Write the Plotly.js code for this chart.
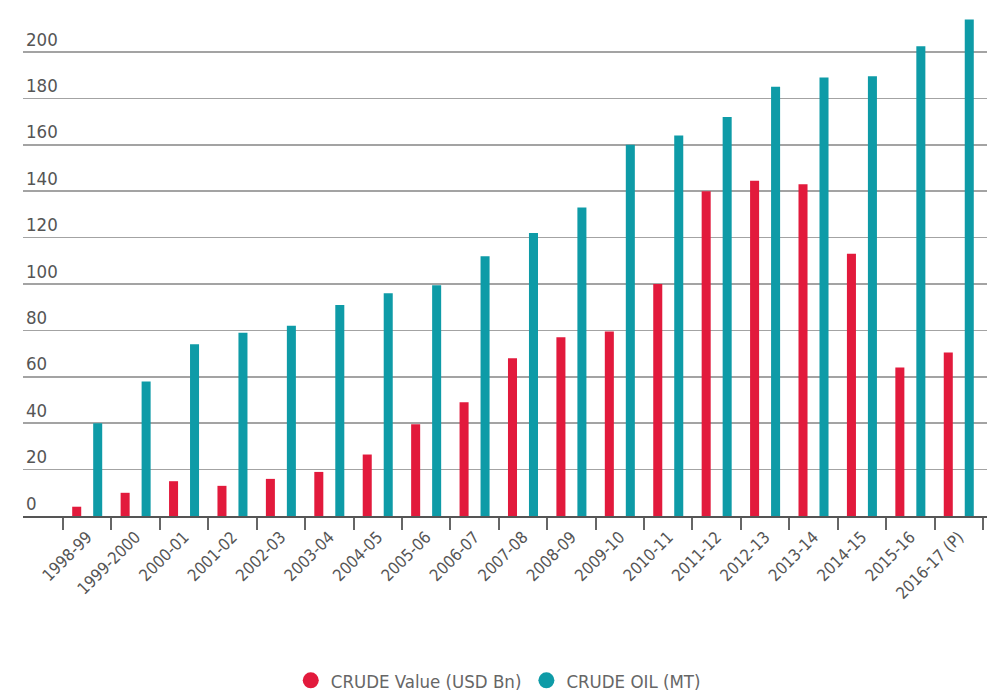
<!DOCTYPE html>
<html>
<head>
<meta charset="utf-8">
<script src="https://cdn.plot.ly/plotly-3.0.1.min.js"></script>
<style>html,body{margin:0;padding:0;background:#fff;}#chart{width:987px;height:694px;}</style>
</head>
<body>
<div id="chart"></div>
<script>
var years = ["1998-99","1999-2000","2000-01","2001-02","2002-03","2003-04","2004-05","2005-06","2006-07","2007-08","2008-09","2009-10","2010-11","2011-12","2012-13","2013-14","2014-15","2015-16","2016-17 (P)"];
var crudeValue = [4, 10, 15, 13, 16, 19, 26.5, 39.5, 49, 68, 77, 79.5, 100, 140, 144.5, 143, 113, 64, 70.5];
var crudeOil = [40, 58, 74, 79, 82, 91, 96, 99.5, 112, 122, 133, 160, 164, 172, 185, 189, 189.5, 202.5, 214];
var nameValue = "CRUDE Value (USD Bn)";
var nameOil = "CRUDE OIL (MT)";

var RED = "#e21a3c", TEAL = "#0e9ba7";
var FONT = "DejaVu Sans Condensed, Roboto, sans-serif";

var data = [
  {type:"bar", x:years, y:crudeValue, name:nameValue, marker:{color:RED}, showlegend:false},
  {type:"bar", x:years, y:crudeOil, name:nameOil, marker:{color:TEAL}, showlegend:false},
  {type:"scatter", mode:"markers", x:[null], y:[null], name:nameValue, marker:{color:RED, size:16, symbol:"circle"}, showlegend:true, hoverinfo:"skip"},
  {type:"scatter", mode:"markers", x:[null], y:[null], name:nameOil, marker:{color:TEAL, size:16, symbol:"circle"}, showlegend:true, hoverinfo:"skip"}
];

var layout = {
  width:987, height:694,
  margin:{l:23, r:0, t:10, b:178, autoexpand:false},
  paper_bgcolor:"#fff", plot_bgcolor:"#fff",
  font:{family:FONT, color:"#555"},
  barmode:"group", bargap:0.133, bargroupgap:0.57,
  showlegend:true,
  legend:{orientation:"h", x:0.493, xanchor:"center", yref:"container", y:0.019, yanchor:"middle",
          font:{family:FONT, size:18.5, color:"#666"}, itemclick:false},
  xaxis:{type:"category", range:[-1.326, 18.583], showgrid:false, zeroline:false,
         showline:true, linecolor:"#555", linewidth:2,
         ticks:"outside", tickson:"boundaries", ticklen:12, tickwidth:2, tickcolor:"#666",
         ticklabelstandoff:3,
         tickangle:-45, tickfont:{family:FONT, size:16.5, color:"#555"}, automargin:false, fixedrange:true},
  yaxis:{range:[0, 218.1], dtick:20, tick0:0, showgrid:true, gridcolor:"#a3a3a3", gridwidth:1.5,
         zeroline:false, showline:false, ticks:"", ticklabelposition:"inside top",
         tickfont:{family:FONT, size:18.5, color:"#555"}, automargin:false, fixedrange:true}
};

Plotly.newPlot("chart", data, layout, {displayModeBar:false, staticPlot:true});
</script>
</body>
</html>
